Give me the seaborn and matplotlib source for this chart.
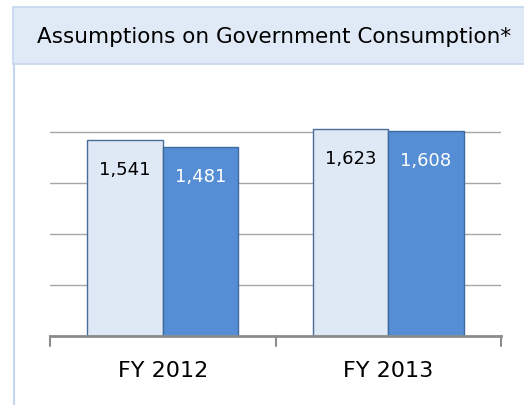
import matplotlib
matplotlib.use("Agg")
import matplotlib.pyplot as plt
from matplotlib.patches import Rectangle
from matplotlib.lines import Line2D
import seaborn as sns
import pandas as pd

categories = ["FY 2012", "FY 2013"]
series_names = ["Series 1", "Series 2"]
series1_values = [1541, 1623]
series2_values = [1481, 1608]
title_text = "Assumptions on Government Consumption*"

sns.set_theme(style="white")
plt.rcParams['font.family'] = ['DejaVu Sans']

df = pd.DataFrame({
    "category": categories * 2,
    "series": [series_names[0]] * 2 + [series_names[1]] * 2,
    "value": series1_values + series2_values,
})

W, H = 524, 405
fig = plt.figure(figsize=(W / 100, H / 100), dpi=100)
fig.patch.set_facecolor("white")

# header band
fig.patches.append(Rectangle((13 / W, 1 - 64 / H), 1.0, 57 / H,
                             transform=fig.transFigure, facecolor="#E0EAF6",
                             edgecolor="#C5D6EE", linewidth=1.2))
fig.lines.append(Line2D([13.5 / W, 13.5 / W], [0, 1 - 64 / H], transform=fig.transFigure,
                        color="#C5D6EE", linewidth=1.5))
fig.text(274 / W, 1 - 37 / H, title_text, ha="center", va="center", fontsize=15.5, color="black")

ax = fig.add_axes([50 / W, 69 / H, 451 / W, 229.3 / H])
palette = {series_names[0]: "#DFE8F5", series_names[1]: "#558ED5"}
sns.barplot(data=df, x="category", y="value", hue="series", order=categories,
            hue_order=series_names, palette=palette, width=0.67, gap=0,
            saturation=1, legend=False, ax=ax)

edge_cols = ["#4A6C9B", "#3F6AA0"]
txt_cols = ["black", "white"]
for i, cont in enumerate(ax.containers):
    for bar in cont:
        bar.set_edgecolor(edge_cols[i])
        bar.set_linewidth(1.0)
    ax.bar_label(cont, labels=[f"{v:,.0f}" for v in cont.datavalues],
                 label_type="edge", padding=-28, color=txt_cols[i], fontsize=13)

ax.set_ylim(0, 1800)
ax.set_xlim(-0.5, 1.5)
ax.set_yticks([400, 800, 1200, 1600])
ax.yaxis.grid(True, color="#A6A6A6", linewidth=1.0)
ax.set_axisbelow(True)
ax.tick_params(axis="y", left=False, labelleft=False)
ax.set_xlabel("")
ax.set_ylabel("")
for s in ["top", "right", "left"]:
    ax.spines[s].set_visible(False)
ax.spines["bottom"].set_color("#8C8C8C")
ax.spines["bottom"].set_linewidth(2.0)
ax.set_xticks([0, 1])
ax.set_xticklabels(categories, fontsize=16, color="black")
ax.tick_params(axis="x", length=0, pad=18)
# category boundary ticks
for xb in [-0.5, 0.5, 1.5]:
    ax.plot([xb, xb], [0, -0.045], transform=ax.get_xaxis_transform(),
            color="#8C8C8C", linewidth=1.5, clip_on=False)

fig.savefig("out.png", dpi=100)
